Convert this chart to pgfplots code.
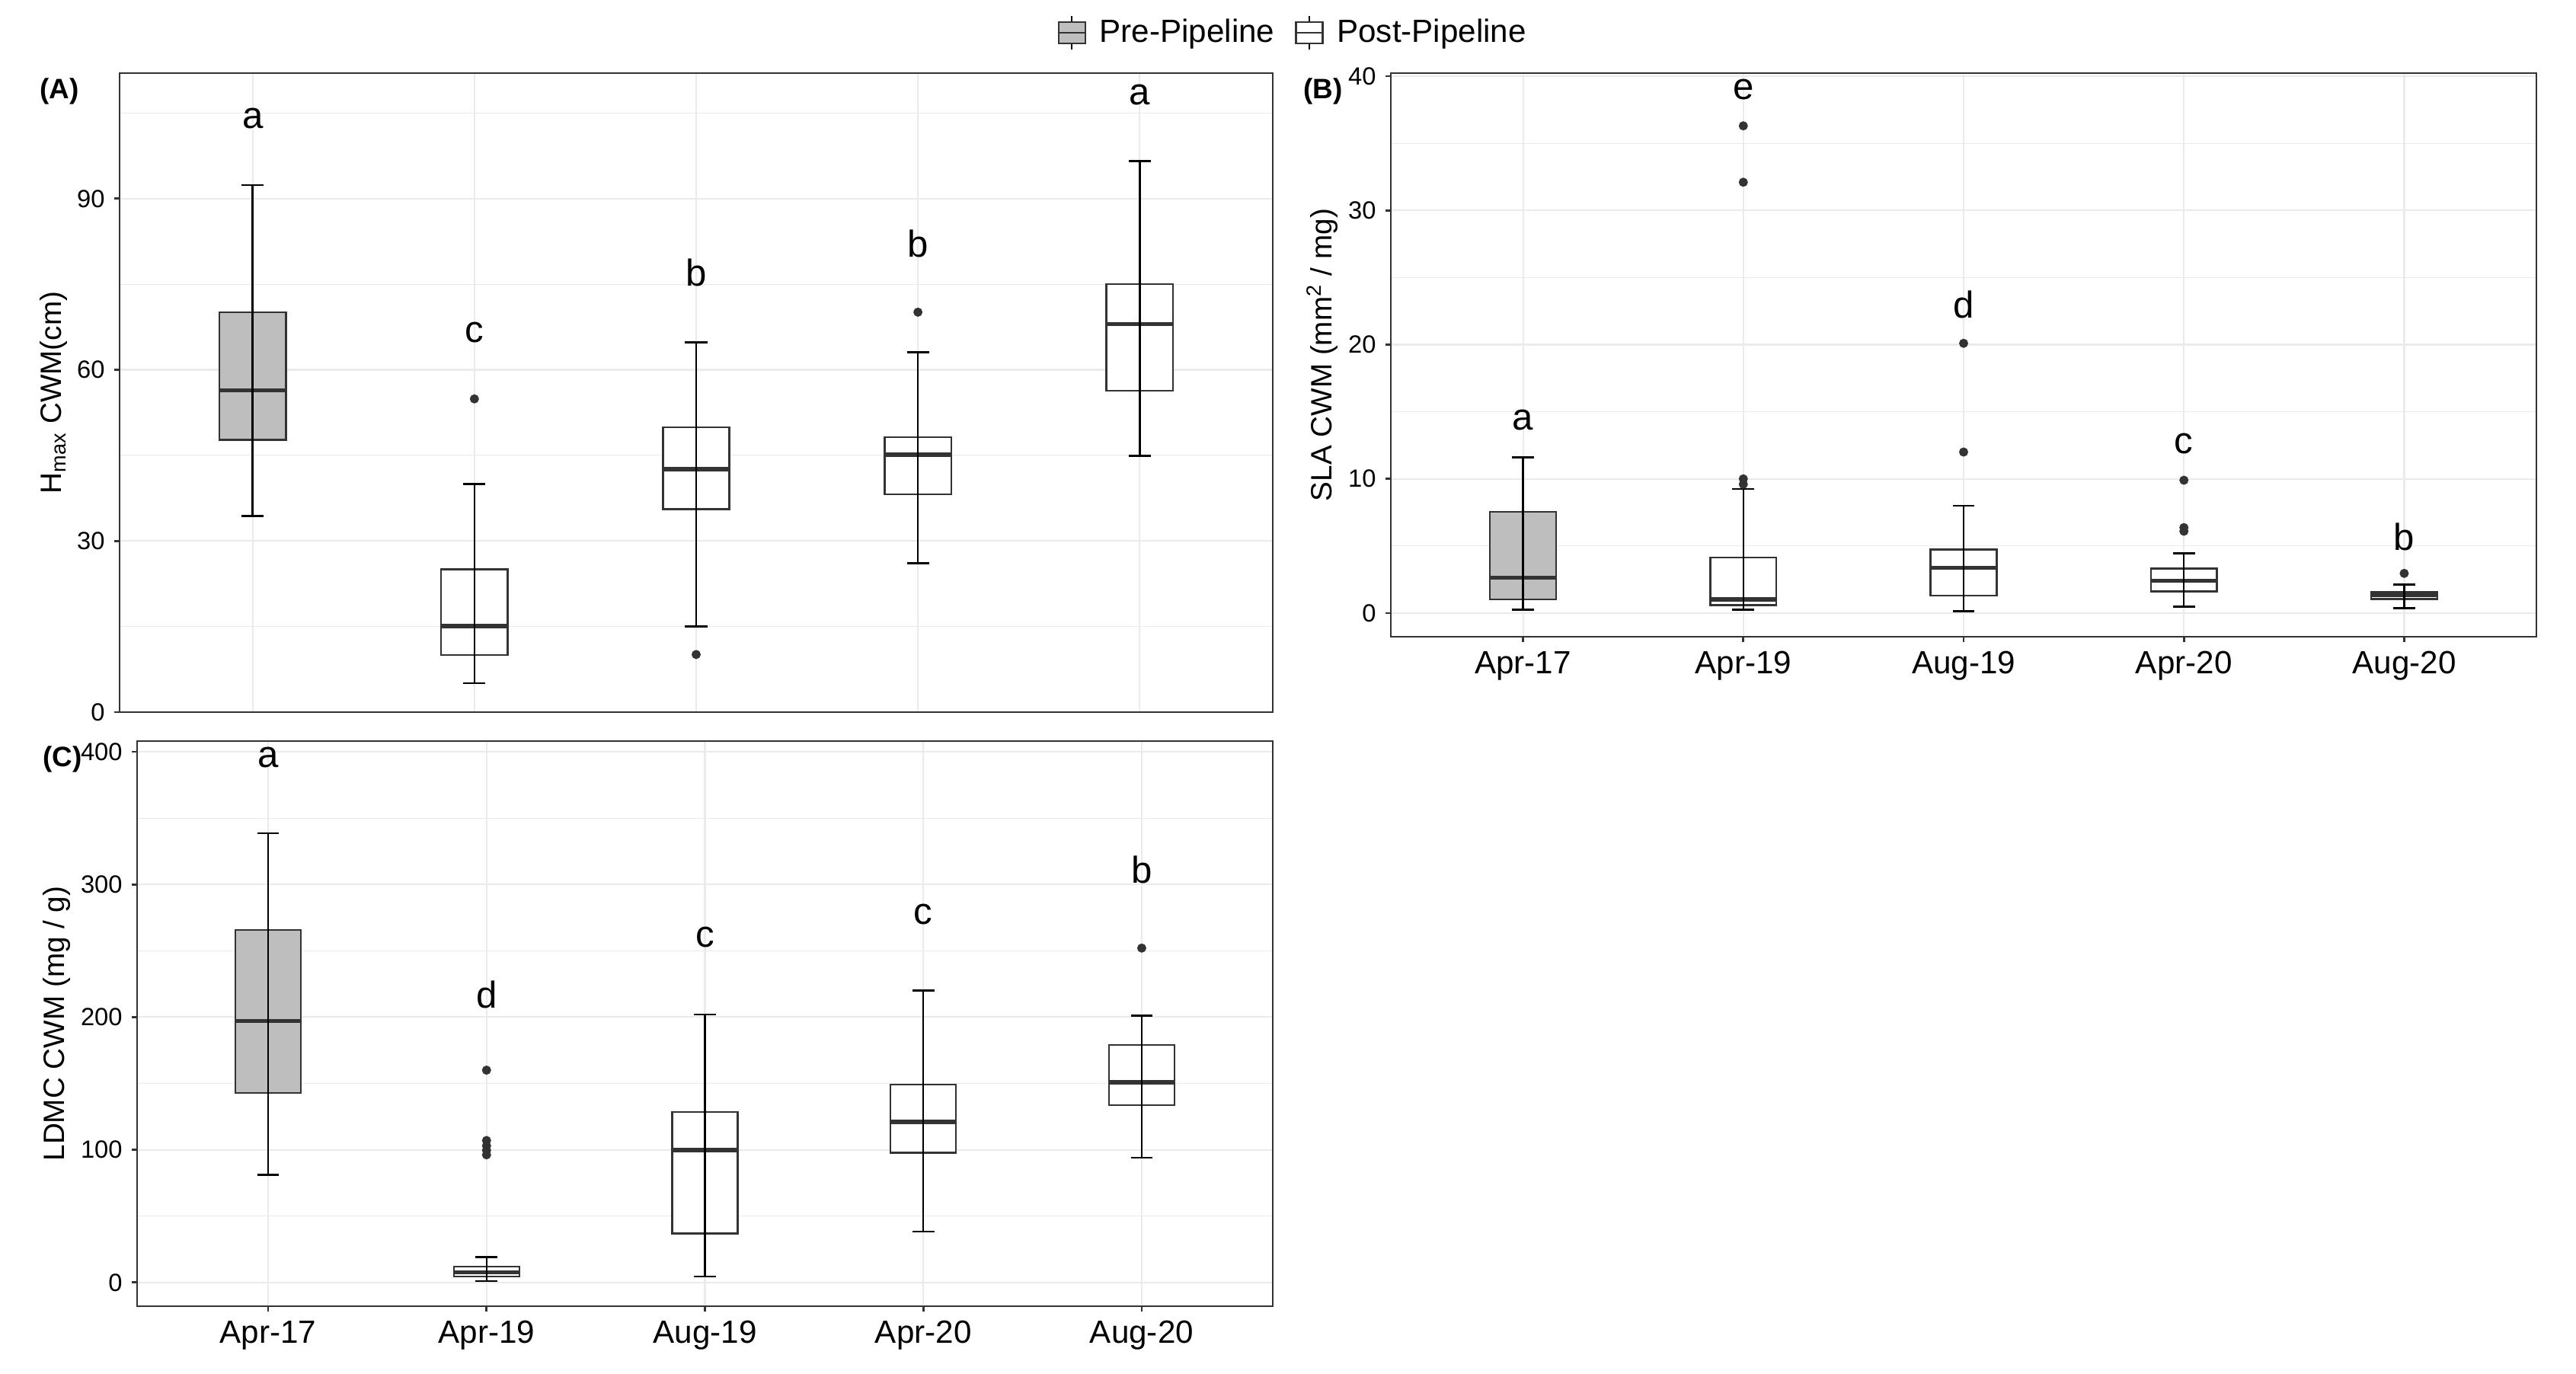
\documentclass[border=0pt]{standalone}
\usepackage{fontspec}
\setmainfont{Liberation Sans}
\usepackage{pgfplots}
\pgfplotsset{compat=1.18}

\definecolor{gray20c}{HTML}{333333}
\definecolor{grid92}{HTML}{EBEBEB}
\definecolor{boxgray}{HTML}{BEBEBE}

\pgfplotsset{
  panel/.style={
    scale only axis, clip=false,
    xmin=0.4, xmax=5.6, xtick={1,2,3,4,5},
    tick pos=left, tick align=outside,
    major tick length=0.07cm, minor tick length=0pt,
    axis line style={draw=gray20c, line width=0.8pt},
    major tick style={draw=gray20c, line width=0.8pt},
    grid=both,
    major grid style={draw=grid92, line width=0.6pt},
    minor grid style={draw=grid92, line width=0.3pt},
    yticklabel style={font=\fontsize{9.3}{11}\selectfont, text=black},
    xticklabel style={font=\fontsize{12}{14}\selectfont, text=black},
    /pgf/number format/assume math mode=true,
    every axis y label/.style={at={(axis description cs:#1,0.5)}, rotate=90,
      anchor=center, font=\fontsize{11}{13}\selectfont},
  },
  outl/.style={forget plot, only marks, mark=*, mark size=1.5pt,
    mark options={fill=gray20c, draw=gray20c}},
}
\tikzset{letter/.style={font=\fontsize{14}{16}\selectfont, inner sep=0pt, anchor=center}}

% position, lower whisker, lower quartile, median, upper quartile, upper whisker, fill
\newcommand{\bx}[7]{%
  \pgfmathsetmacro{\boxL}{#1-0.15}\pgfmathsetmacro{\boxR}{#1+0.15}%
  \pgfmathsetmacro{\capL}{#1-0.05}\pgfmathsetmacro{\capR}{#1+0.05}%
  \addplot[forget plot, fill=#7, draw=gray20c, line width=0.7pt]
    coordinates {(\boxL,#3) (\boxR,#3) (\boxR,#5) (\boxL,#5)} -- cycle;
  \addplot[forget plot, draw=gray20c, line width=1.6pt] coordinates {(\boxL,#4) (\boxR,#4)};
  \addplot[forget plot, black, line width=0.7pt] coordinates {(#1,#2) (#1,#6)};
  \addplot[forget plot, black, line width=0.7pt] coordinates {(\capL,#2) (\capR,#2)};
  \addplot[forget plot, black, line width=0.7pt] coordinates {(\capL,#6) (\capR,#6)};
}

\begin{document}
\begin{tikzpicture}
\useasboundingbox (0,0) rectangle (33.82,18.03);

% (A) Hmax
\begin{axis}[panel=-0.057, at={(1.57cm,8.68cm)}, anchor=south west,
    width=15.14cm, height=8.39cm,
    ymin=0, ymax=112, ytick={0,30,60,90}, minor ytick={15,45,75,105},
    xticklabels={}, xtick style={draw=none},
    ylabel={H\textsubscript{max} CWM(cm)},
    legend style={at={(axis description cs:1.019,1.063)}, anchor=center,
      draw=none, fill=none, legend columns=2,
      font=\fontsize{12}{14}\selectfont,
      /tikz/every even column/.append style={column sep=0.2cm}},
  ]
  \addlegendimage{legend image code/.code={
    \draw[black, line width=0.6pt] (0.17cm,-0.22cm) -- (0.17cm,0.22cm);
    \draw[draw=gray20c, fill=boxgray, line width=0.7pt] (0cm,-0.14cm) rectangle (0.35cm,0.14cm);
    \draw[gray20c, line width=0.7pt] (0cm,0cm) -- (0.35cm,0cm);
    \path (0.46cm,0cm);}}
  \addlegendentry{Pre-Pipeline}
  \addlegendimage{legend image code/.code={
    \draw[black, line width=0.6pt] (0.17cm,-0.22cm) -- (0.17cm,0.22cm);
    \draw[draw=gray20c, fill=white, line width=0.7pt] (0cm,-0.14cm) rectangle (0.35cm,0.14cm);
    \draw[gray20c, line width=0.7pt] (0cm,0cm) -- (0.35cm,0cm);
    \path (0.46cm,0cm);}}
  \addlegendentry{Post-Pipeline}

  \bx{1}{34.4}{47.7}{56.4}{70.1}{92.4}{boxgray}
  \bx{2}{5.1}{10.0}{15.1}{25.0}{40.0}{white}
  \bx{3}{15.0}{35.6}{42.6}{49.9}{64.8}{white}
  \bx{4}{26.1}{38.2}{45.1}{48.2}{63.1}{white}
  \bx{5}{44.9}{56.3}{68.0}{75.0}{96.6}{white}
  \addplot[outl] coordinates {(2,54.9) (3,10.1) (4,70.1)};

  \node[letter] at (axis cs:1,104) {a};
  \node[letter] at (axis cs:2,66.6) {c};
  \node[letter] at (axis cs:3,77.1) {b};
  \node[letter] at (axis cs:4,82.1) {b};
  \node[letter] at (axis cs:5,108.2) {a};
\end{axis}

% (B) SLA
\begin{axis}[panel=-0.06, at={(18.26cm,9.67cm)}, anchor=south west,
    width=15.04cm, height=7.40cm,
    ymin=-1.76, ymax=40.23, ytick={0,10,20,30,40}, minor ytick={5,15,25,35},
    xticklabels={Apr-17,Apr-19,Aug-19,Apr-20,Aug-20},
    ylabel={SLA CWM (mm\textsuperscript{2} / mg)},
  ]
  \bx{1}{0.25}{1.02}{2.64}{7.55}{11.6}{boxgray}
  \bx{2}{0.25}{0.6}{1.02}{4.14}{9.24}{white}
  \bx{3}{0.13}{1.3}{3.38}{4.75}{8.0}{white}
  \bx{4}{0.48}{1.62}{2.42}{3.31}{4.46}{white}
  \bx{5}{0.38}{1.05}{1.37}{1.56}{2.13}{white}
  \addplot[outl] coordinates {
    (2,10.0) (2,9.6) (2,32.1) (2,36.3)
    (3,12.0) (3,20.1)
    (4,9.9) (4,6.37) (4,6.1)
    (5,2.96)};

  \node[letter] at (axis cs:1,14.4) {a};
  \node[letter] at (axis cs:2,39.0) {e};
  \node[letter] at (axis cs:3,23.0) {d};
  \node[letter] at (axis cs:4,12.6) {c};
  \node[letter] at (axis cs:5,5.7) {b};
\end{axis}

% (C) LDMC
\begin{axis}[panel=-0.071, at={(1.80cm,0.88cm)}, anchor=south west,
    width=14.91cm, height=7.42cm,
    ymin=-17.9, ymax=408, ytick={0,100,200,300,400}, minor ytick={50,150,250,350},
    xticklabels={Apr-17,Apr-19,Aug-19,Apr-20,Aug-20},
    ylabel={LDMC CWM (mg / g)},
  ]
  \bx{1}{81.1}{142.8}{197}{265.5}{338.6}{boxgray}
  \bx{2}{1.2}{4.6}{7.7}{12.0}{19.1}{white}
  \bx{3}{4.6}{37}{99.6}{128.6}{202}{white}
  \bx{4}{38.2}{97.7}{121}{149}{220}{white}
  \bx{5}{94}{133.5}{150.8}{179}{201}{white}
  \addplot[outl] coordinates {
    (2,160) (2,107) (2,103) (2,99.6) (2,96.2)
    (5,252)};

  \node[letter] at (axis cs:1,395.6) {a};
  \node[letter] at (axis cs:2,217) {d};
  \node[letter] at (axis cs:3,260) {c};
  \node[letter] at (axis cs:4,277.5) {c};
  \node[letter] at (axis cs:5,310.8) {b};
\end{axis}

\node[font=\fontsize{10.5}{12}\selectfont\bfseries] at (0.78,16.83) {(A)};
\node[font=\fontsize{10.5}{12}\selectfont\bfseries] at (17.37,16.83) {(B)};
\node[font=\fontsize{10.5}{12}\selectfont\bfseries] at (0.82,8.06) {(C)};
\end{tikzpicture}
\end{document}
